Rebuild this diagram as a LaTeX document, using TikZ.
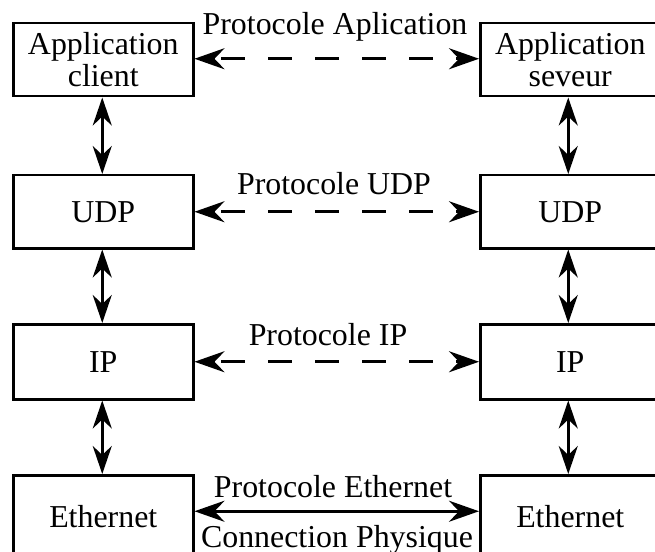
\documentclass[tikz,border=0pt]{standalone}
\usepackage{fontspec}
\setmainfont{Liberation Serif}
\usetikzlibrary{arrows.meta}
\begin{document}
\begin{tikzpicture}[x=1bp,y=-1bp,
  layerbox/.style={draw, line width=2.5bp, minimum width=180bp, minimum height=73bp,
    inner sep=0pt, align=center, anchor=north west, font=\fontsize{32}{32}\selectfont},
  lbl/.style={inner sep=0pt, anchor=base, font=\fontsize{32}{32}\selectfont},
  stack/.style={line width=3bp, {Stealth[length=28bp, width=19bp, inset=9bp]}-{Stealth[length=28bp, width=19bp, inset=9bp]}},
  peer/.style={line width=3bp, {Stealth[length=30bp, width=21bp, inset=10bp]}-{Stealth[length=30bp, width=21bp, inset=10bp]}},
  peerdash/.style={peer, dash pattern=on 24bp off 23bp, dash phase=-8bp}
]
\useasboundingbox (0,0) rectangle (655,552);
\begin{scope}
\clip (0,0) rectangle (655,552);

% client stack
\node[layerbox] (ac) at (12,22) {Application\\client};
\node[layerbox] (uc) at (12,174) {UDP};
\node[layerbox, minimum height=75bp] (ic) at (12,323) {IP};
\node[layerbox, minimum height=82bp] (ec) at (12,474) {Ethernet};

% server stack
\node[layerbox] (as) at (479,22) {Application\\seveur};
\node[layerbox] (us) at (479,174) {UDP};
\node[layerbox, minimum height=75bp] (is) at (479,323) {IP};
\node[layerbox, minimum height=82bp] (es) at (479,474) {Ethernet};

% vertical links inside each stack
\draw[stack] ([xshift=-1bp]ac.south) -- ([xshift=-1bp]uc.north);
\draw[stack] ([xshift=-1bp]uc.south) -- ([xshift=-1bp]ic.north);
\draw[stack] ([xshift=-1bp]ic.south) -- ([xshift=-1bp]ec.north);
\draw[stack] ([xshift=-2bp]as.south) -- ([xshift=-2bp]us.north);
\draw[stack] ([xshift=-2bp]us.south) -- ([xshift=-2bp]is.north);
\draw[stack] ([xshift=-2bp]is.south) -- ([xshift=-2bp]es.north);

% peer protocols
\draw[peerdash] ([yshift=1bp]ac.east) -- ([yshift=1bp]as.west);
\draw[peerdash] (uc.east) -- (us.west);
\draw[peerdash] (ic.east) -- (is.west);
\draw[peer] ([yshift=5bp]ec.east) -- ([yshift=5bp]es.west);

% labels
\node[lbl] (pa) at (335,35) {Protocole Aplication};
\node[lbl] (pu) at (334,195) {Protocole UDP};
\node[lbl] (pi) at (328,345) {Protocole IP};
\node[lbl] (pe) at (333,497) {Protocole Ethernet};
\node[lbl] (cp) at (337,547) {Connection Physique};
\end{scope}
\end{tikzpicture}
\end{document}
